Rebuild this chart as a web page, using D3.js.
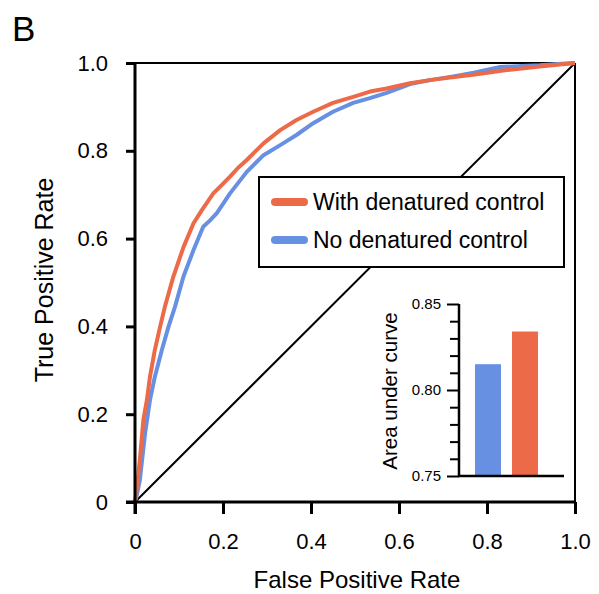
<!DOCTYPE html>
<html>
<head>
<meta charset="utf-8">
<script src="https://cdn.jsdelivr.net/npm/d3@7"></script>
<style>
  body { margin: 0; background: #fff; }
  text { font-family: "Liberation Sans", Arial, sans-serif; fill: #000; }
</style>
</head>
<body>
<svg id="chart" width="599" height="594"></svg>
<script>
// ROC curve points
var withFpr = [0, 0.005, 0.011, 0.019, 0.027, 0.034, 0.045, 0.057, 0.068, 0.087, 0.11, 0.133, 0.152, 0.178, 0.193, 0.216, 0.235, 0.254, 0.292, 0.33, 0.367, 0.405, 0.45, 0.496, 0.534, 0.572, 0.625, 0.67, 0.716, 0.768, 0.845, 0.92, 0.96, 1];
var withTpr = [0, 0.04, 0.096, 0.187, 0.232, 0.285, 0.346, 0.399, 0.445, 0.513, 0.58, 0.635, 0.665, 0.703, 0.718, 0.741, 0.762, 0.779, 0.817, 0.847, 0.87, 0.889, 0.909, 0.923, 0.935, 0.942, 0.954, 0.961, 0.967, 0.973, 0.984, 0.992, 0.996, 1];

var noFpr = [0, 0.005, 0.011, 0.023, 0.034, 0.045, 0.061, 0.076, 0.091, 0.11, 0.133, 0.155, 0.17, 0.186, 0.216, 0.254, 0.292, 0.33, 0.367, 0.405, 0.45, 0.496, 0.534, 0.572, 0.625, 0.67, 0.72, 0.77, 0.83, 0.88, 0.92, 0.96, 1];
var noTpr = [0, 0.02, 0.05, 0.157, 0.232, 0.285, 0.346, 0.399, 0.445, 0.513, 0.574, 0.627, 0.641, 0.658, 0.703, 0.752, 0.79, 0.813, 0.836, 0.863, 0.889, 0.909, 0.92, 0.932, 0.952, 0.961, 0.969, 0.978, 0.991, 0.993, 0.995, 0.998, 1];

var seriesNames = ["With denatured control", "No denatured control"];
var seriesColors = ["#ec6a48", "#6790e3"];

// inset bars: area under curve
var aucNames = ["No denatured control", "With denatured control"];
var aucValues = [0.815, 0.834];
var aucColors = ["#6790e3", "#ec6a48"];

var xTicks = [0, 0.2, 0.4, 0.6, 0.8, 1.0];
var yTicks = [0, 0.2, 0.4, 0.6, 0.8, 1.0];

var svg = d3.select("#chart");

var pLeft = 135, pRight = 575, pTop = 63, pBottom = 502;

var x = d3.scaleLinear().domain([0, 1]).range([pLeft, pRight]);
var y = d3.scaleLinear().domain([0, 1]).range([pBottom, pTop]);

var fmt = function(d) { return d === 0 ? "0" : d3.format(".1f")(d); };

// frame top / right
svg.append("line").attr("x1", pLeft).attr("x2", pRight).attr("y1", pTop).attr("y2", pTop)
  .attr("stroke", "#000").attr("stroke-width", 2);
svg.append("line").attr("x1", pRight).attr("x2", pRight).attr("y1", pTop).attr("y2", pBottom)
  .attr("stroke", "#000").attr("stroke-width", 2);

// diagonal
svg.append("line").attr("x1", x(0)).attr("y1", y(0)).attr("x2", x(1)).attr("y2", y(1))
  .attr("stroke", "#000").attr("stroke-width", 2);

// curves
var line = d3.line().x(function(d) { return x(d[0]); }).y(function(d) { return y(d[1]); });
var noData = d3.zip(noFpr, noTpr);
var withData = d3.zip(withFpr, withTpr);

svg.append("path").datum(noData).attr("d", line)
  .attr("fill", "none").attr("stroke", seriesColors[1]).attr("stroke-width", 4).attr("stroke-linejoin", "round");
svg.append("path").datum(withData).attr("d", line)
  .attr("fill", "none").attr("stroke", seriesColors[0]).attr("stroke-width", 4).attr("stroke-linejoin", "round");

// axes
var xAxis = svg.append("g").attr("transform", "translate(0," + pBottom + ")")
  .call(d3.axisBottom(x).tickValues(xTicks).tickFormat(fmt).tickSize(12).tickPadding(19));
var yAxis = svg.append("g").attr("transform", "translate(" + pLeft + ",0)")
  .call(d3.axisLeft(y).tickValues(yTicks).tickFormat(fmt).tickSize(9).tickPadding(18));

[xAxis, yAxis].forEach(function(g) {
  g.attr("font-size", 22).attr("font-family", "Liberation Sans, Arial, sans-serif");
  g.select(".domain").attr("stroke-width", 3).attr("stroke", "#000");
  g.selectAll(".tick line").attr("stroke-width", 3).attr("stroke", "#000");
  g.selectAll(".tick text").attr("fill", "#000");
});
xAxis.select(".domain").attr("d", "M" + (pLeft - 9) + ",0H" + pRight);
yAxis.select(".domain").attr("d", "M0," + pTop + "V" + (pBottom + 12));

// axis titles
svg.append("text").attr("x", 357).attr("y", 588)
  .attr("text-anchor", "middle").style("font-size", "24px").text("False Positive Rate");
svg.append("text").attr("transform", "translate(53,280) rotate(-90)")
  .attr("text-anchor", "middle").style("font-size", "25px").text("True Positive Rate");

// panel letter
svg.append("text").attr("x", 12).attr("y", 41).style("font-size", "35px").text("B");

// legend
var legend = svg.append("g");
legend.append("rect").attr("x", 259).attr("y", 177).attr("width", 305).attr("height", 90)
  .attr("fill", "#fff").attr("stroke", "#000").attr("stroke-width", 2);
seriesNames.forEach(function(name, i) {
  var ly = 202 + i * 38;
  legend.append("line").attr("x1", 275).attr("x2", 304).attr("y1", ly).attr("y2", ly)
    .attr("stroke", seriesColors[i]).attr("stroke-width", 8).attr("stroke-linecap", "round");
  legend.append("text").attr("x", 313).attr("y", ly + 8).style("font-size", "23px").text(name);
});

// inset bar chart
var iLeft = 459, iRight = 564, iTop = 304, iBottom = 476;
var iy = d3.scaleLinear().domain([0.75, 0.85]).range([iBottom, iTop]);
var ix = d3.scaleBand().domain(aucNames).range([468, 545]).paddingInner(0.297).paddingOuter(0.19);

svg.selectAll(".auc").data(aucValues).enter().append("rect")
  .attr("class", "auc")
  .attr("x", function(d, i) { return ix(aucNames[i]); })
  .attr("width", ix.bandwidth())
  .attr("y", function(d) { return iy(d); })
  .attr("height", function(d) { return iBottom - iy(d); })
  .attr("fill", function(d, i) { return aucColors[i]; });

var minor = d3.range(0, 11).map(function(i) { return 0.75 + i * 0.01; });
var iAxis = svg.append("g").attr("transform", "translate(" + iLeft + ",0)")
  .call(d3.axisLeft(iy).tickValues(minor).tickSize(9).tickPadding(6)
    .tickFormat(function(d, i) { return i % 5 === 0 ? d3.format(".2f")(d) : ""; }));
iAxis.attr("font-size", 15).attr("font-family", "Liberation Sans, Arial, sans-serif");
iAxis.select(".domain").attr("stroke-width", 2.5).attr("d", "M0," + iTop + "V" + iBottom);
iAxis.selectAll(".tick line").attr("stroke-width", 2)
  .attr("x2", function(d, i) { return i % 5 === 0 ? -12 : -9; });
iAxis.selectAll(".tick text").attr("fill", "#000").attr("x", -18);
svg.append("line").attr("x1", iLeft - 1).attr("x2", iRight).attr("y1", iBottom).attr("y2", iBottom)
  .attr("stroke", "#000").attr("stroke-width", 2.5);

svg.append("text").attr("transform", "translate(397,391) rotate(-90)")
  .attr("text-anchor", "middle").style("font-size", "20.5px").text("Area under curve");
</script>
</body>
</html>
